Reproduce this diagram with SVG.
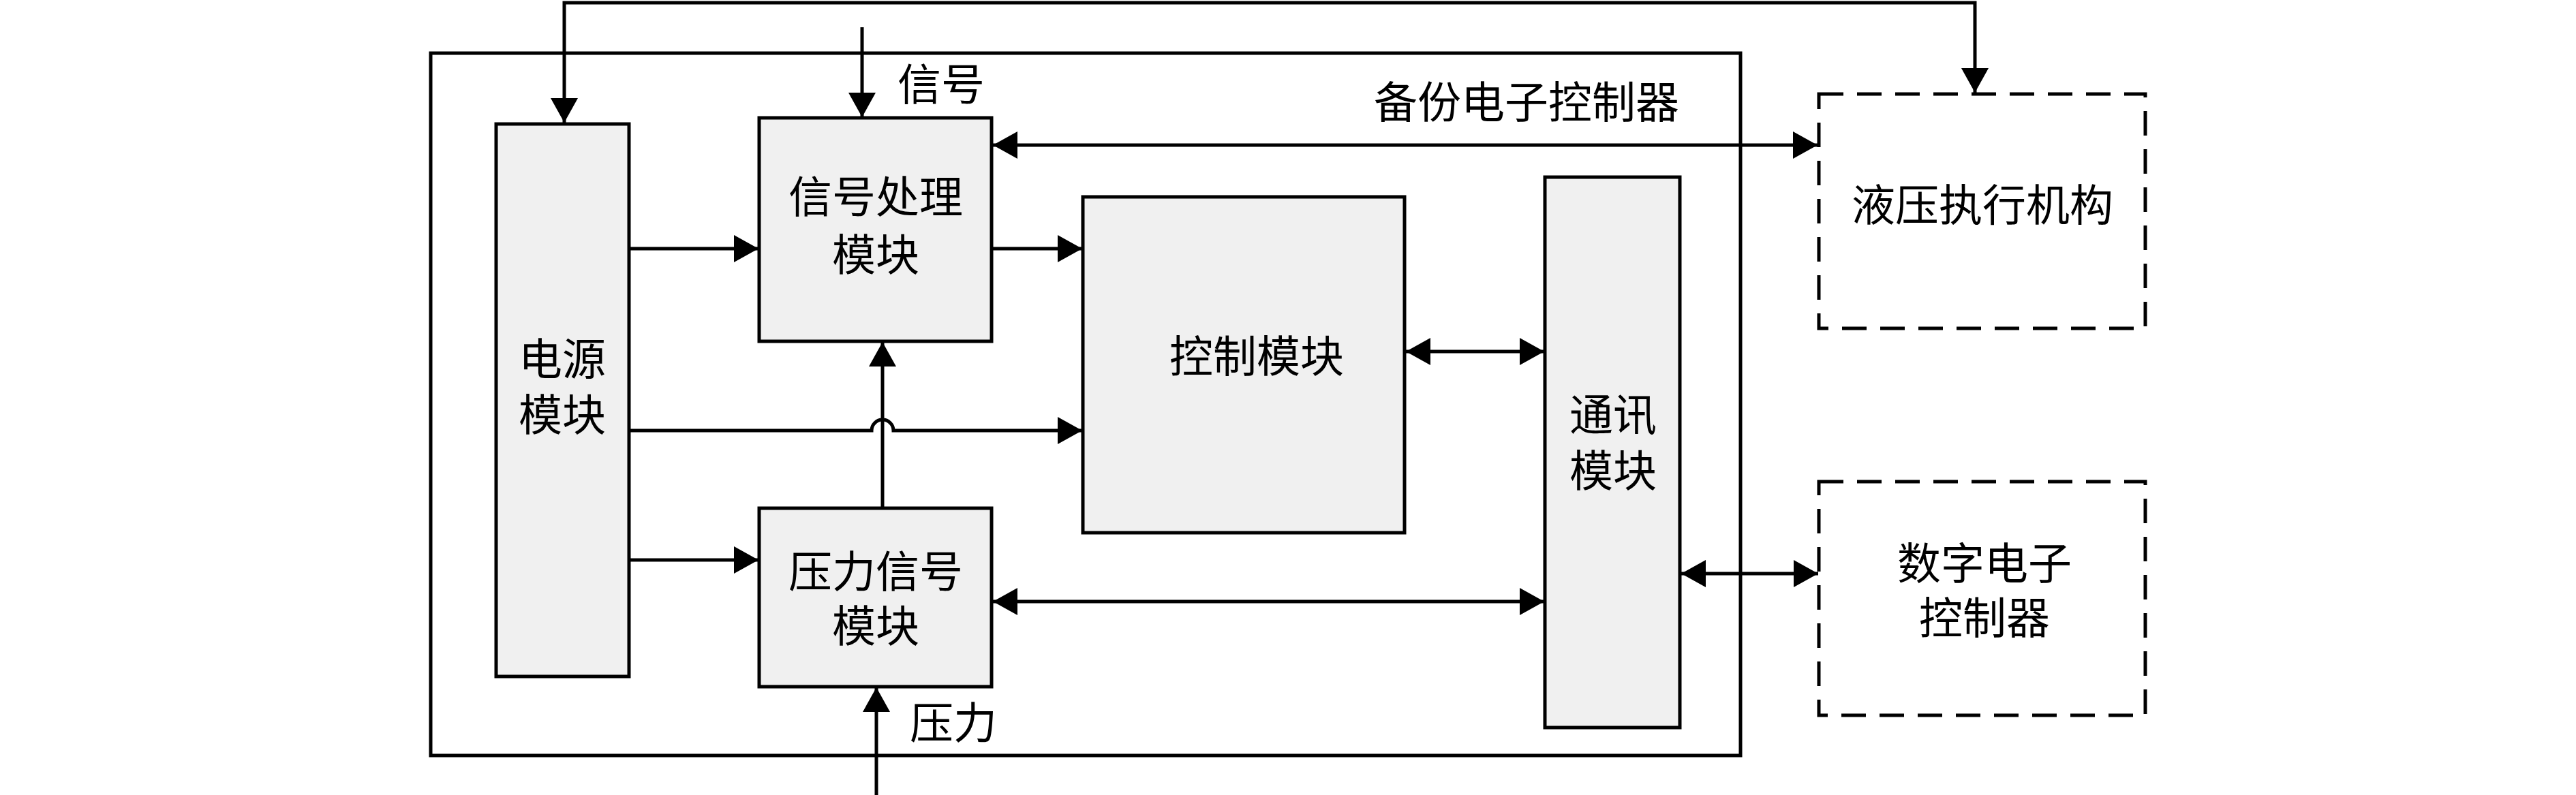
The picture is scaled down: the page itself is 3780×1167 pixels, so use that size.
<svg xmlns="http://www.w3.org/2000/svg" width="3780" height="1167" viewBox="0 0 3780 1167">
<style>
.box{fill:#f0f0f0;stroke:#000;stroke-width:5}
.frame{fill:none;stroke:#000;stroke-width:5}
.dash{fill:none;stroke:#000;stroke-width:5;stroke-dasharray:36 20}
.ln{fill:none;stroke:#000;stroke-width:5}
text{font-family:"Liberation Serif","Noto Sans CJK SC",serif;font-size:64px;fill:#000;text-anchor:middle;dominant-baseline:central}
</style>
<defs>
<marker id="ah" markerUnits="userSpaceOnUse" markerWidth="36" markerHeight="40" refX="36" refY="20" orient="auto-start-reverse" viewBox="0 0 36 40">
<path d="M0,0 L36,20 L0,40 z" fill="#000"/>
</marker>
</defs>
<g id="backup-controller">
<rect class="frame" x="632" y="78" width="1922" height="1031"/>
<text x="2240" y="151">备份电子控制器</text>
</g>
<g id="power">
<rect class="box" x="728" y="182" width="195" height="811"/>
<text x="825" y="528">电源</text>
<text x="825" y="610">模块</text>
</g>
<g id="signal-proc">
<rect class="box" x="1114" y="173" width="341" height="328"/>
<text x="1285" y="290">信号处理</text>
<text x="1285" y="375">模块</text>
</g>
<g id="pressure-signal">
<rect class="box" x="1114" y="746" width="341" height="262"/>
<text x="1285" y="840">压力信号</text>
<text x="1285" y="920">模块</text>
</g>
<g id="control">
<rect class="box" x="1589" y="289" width="472" height="493"/>
<text x="1844" y="524">控制模块</text>
</g>
<g id="comm">
<rect class="box" x="2267" y="260" width="198" height="808"/>
<text x="2367" y="610">通讯</text>
<text x="2367" y="692">模块</text>
</g>
<g id="hydraulic">
<rect class="dash" x="2669" y="138" width="479" height="344"/>
<text x="2909" y="302">液压执行机构</text>
</g>
<g id="digital">
<rect class="dash" x="2669" y="707" width="479" height="343"/>
<text x="2912" y="828">数字电子</text>
<text x="2912" y="908">控制器</text>
</g>
<g id="labels">
<text x="1381" y="125">信号</text>
<text x="1399" y="1062">压力</text>
</g>
<g id="connectors">
<polyline class="ln" points="828,180 828,4 2898,4 2898,136" marker-start="url(#ah)" marker-end="url(#ah)"/>
<line class="ln" x1="1265" y1="40" x2="1265" y2="172" marker-end="url(#ah)"/>
<line class="ln" x1="1457" y1="213" x2="2667" y2="213" marker-start="url(#ah)" marker-end="url(#ah)"/>
<line class="ln" x1="923" y1="365" x2="1113" y2="365" marker-end="url(#ah)"/>
<line class="ln" x1="1455" y1="365" x2="1588" y2="365" marker-end="url(#ah)"/>
<path class="ln" d="M923,632 L1279,632 A16,16 0 0 1 1311,632 L1588,632" marker-end="url(#ah)"/>
<line class="ln" x1="1295" y1="746" x2="1295" y2="502" marker-end="url(#ah)"/>
<line class="ln" x1="923" y1="822" x2="1113" y2="822" marker-end="url(#ah)"/>
<line class="ln" x1="2063" y1="516" x2="2266" y2="516" marker-start="url(#ah)" marker-end="url(#ah)"/>
<line class="ln" x1="1457" y1="883" x2="2266" y2="883" marker-start="url(#ah)" marker-end="url(#ah)"/>
<line class="ln" x1="2467" y1="842" x2="2668" y2="842" marker-start="url(#ah)" marker-end="url(#ah)"/>
<line class="ln" x1="1286" y1="1167" x2="1286" y2="1009" marker-end="url(#ah)"/>
</g>
</svg>
